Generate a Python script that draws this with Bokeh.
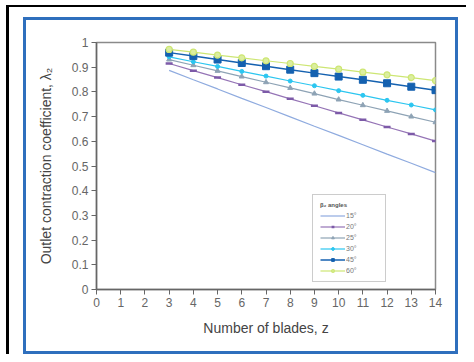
from bokeh.plotting import figure
from bokeh.models import (Range1d, FixedTicker, NumeralTickFormatter, Legend, LegendItem)
from bokeh.embed import file_html
from bokeh.resources import INLINE

# ---- data ----
z = [3, 4, 5, 6, 7, 8, 9, 10, 11, 12, 13, 14]
angles = ["15°", "20°", "25°", "30°", "45°", "60°"]
lam_15 = [0.887, 0.849, 0.812, 0.774, 0.737, 0.699, 0.661, 0.624, 0.586, 0.548, 0.511, 0.473]
lam_20 = [0.915, 0.886, 0.858, 0.829, 0.801, 0.772, 0.744, 0.715, 0.687, 0.658, 0.630, 0.601]
lam_25 = [0.931, 0.908, 0.885, 0.862, 0.839, 0.816, 0.793, 0.769, 0.746, 0.723, 0.700, 0.677]
lam_30 = [0.942, 0.922, 0.903, 0.883, 0.864, 0.844, 0.825, 0.805, 0.786, 0.766, 0.747, 0.727]
lam_45 = [0.959, 0.945, 0.931, 0.917, 0.904, 0.890, 0.876, 0.862, 0.849, 0.835, 0.821, 0.807]
lam_60 = [0.972, 0.961, 0.949, 0.938, 0.926, 0.915, 0.903, 0.892, 0.880, 0.869, 0.858, 0.846]
x_ticks = list(range(0, 15))
y_ticks = [0, 0.1, 0.2, 0.3, 0.4, 0.5, 0.6, 0.7, 0.8, 0.9, 1.0]

FONT = "Liberation Sans"

# page frame: black outer border (left/top) and blue inner box, painted behind a transparent canvas border
frame_css = ", ".join([
    "linear-gradient(#000,#000) 6px 5px / 3px 349px no-repeat",
    "linear-gradient(#000,#000) 6px 5px / 460px 2px no-repeat",
    "linear-gradient(#2f6fbd,#2f6fbd) 23px 17px / 3px 337px no-repeat",
    "linear-gradient(#2f6fbd,#2f6fbd) 455px 17px / 3px 337px no-repeat",
    "linear-gradient(#2f6fbd,#2f6fbd) 23px 17px / 435px 3px no-repeat",
    "linear-gradient(#2f6fbd,#2f6fbd) 23px 351px / 435px 3px no-repeat",
    "#ffffff",
])

p = figure(width=466, height=354, output_backend="svg", toolbar_location=None,
           x_range=Range1d(0, 14), y_range=Range1d(0, 1),
           min_border_left=96, min_border_right=31, min_border_top=42, min_border_bottom=65,
           styles={"background": frame_css})
p.background_fill_color = "white"
p.border_fill_color = "white"
p.border_fill_alpha = 0
p.outline_line_color = "#8a8a8a"
p.outline_line_width = 1.5
p.xgrid.visible = False
p.ygrid.visible = False

for ax in (p.xaxis[0], p.yaxis[0]):
    ax.axis_line_color = "#666666"
    ax.axis_line_width = 1.5
    ax.major_tick_line_color = "#666666"
    ax.major_tick_in = 0
    ax.major_tick_out = 5
    ax.minor_tick_line_color = None
    ax.major_label_text_font = FONT
    ax.major_label_text_font_size = "12px"
    ax.major_label_text_color = "#666666"
    ax.major_label_standoff = 3
    ax.axis_label_text_font = FONT
    ax.axis_label_text_font_size = "14px"
    ax.axis_label_text_font_style = "normal"
    ax.axis_label_text_color = "#444444"

p.xaxis.ticker = FixedTicker(ticks=x_ticks)
p.yaxis.ticker = FixedTicker(ticks=y_ticks)
p.yaxis.formatter = NumeralTickFormatter(format="0.[0]")
p.yaxis.axis_label = "Outlet contraction coefficient, λ₂"
p.yaxis.axis_label_standoff = 15
p.xaxis.axis_label = "Number of blades, z"
p.xaxis.axis_label_standoff = 10

c15, c20, c25, c30, c45, c60 = "#8fabdf", "#9574b6", "#8ea3b5", "#2cc6f0", "#1461b0", "#cde673"

r15 = p.line(z, lam_15, line_color=c15, line_width=1.2)
r20l = p.line(z, lam_20, line_color=c20, line_width=1.2)
r20m = p.scatter(z, lam_20, marker="dash", size=7, line_color="#7d5aa8", line_width=2.5)
r25l = p.line(z, lam_25, line_color=c25, line_width=1.2)
r25m = p.scatter(z, lam_25, marker="triangle", size=5, fill_color=c25, line_color=c25)
r30l = p.line(z, lam_30, line_color=c30, line_width=1.2)
r30m = p.scatter(z, lam_30, marker="circle", size=4, fill_color=c30, line_color=c30)
r45l = p.line(z, lam_45, line_color=c45, line_width=1.5)
r45m = p.scatter(z, lam_45, marker="square", size=7, fill_color=c45, line_color=c45)
r60l = p.line(z, lam_60, line_color=c60, line_width=1.2)
r60m = p.scatter(z, lam_60, marker="circle", size=6, fill_color="#dbeea0", line_color=c60, line_width=1.2)

items = [
    LegendItem(label=angles[0], renderers=[r15]),
    LegendItem(label=angles[1], renderers=[r20l, r20m]),
    LegendItem(label=angles[2], renderers=[r25l, r25m]),
    LegendItem(label=angles[3], renderers=[r30l, r30m]),
    LegendItem(label=angles[4], renderers=[r45l, r45m]),
    LegendItem(label=angles[5], renderers=[r60l, r60m]),
]
legend = Legend(items=items, location=(216, 7), title="β₂ angles",
                title_text_font=FONT, title_text_font_size="6px", title_text_font_style="bold",
                title_text_color="#555555", title_standoff=4,
                label_text_font=FONT, label_text_font_size="7px", label_text_color="#777777",
                glyph_width=25, glyph_height=7, label_height=7, label_width=32,
                label_standoff=1, spacing=4, padding=7, margin=0,
                border_line_color="#9a9a9a", border_line_width=1,
                background_fill_color="white", background_fill_alpha=1)
p.add_layout(legend)

open("out.html", "w").write(file_html(p, INLINE))
